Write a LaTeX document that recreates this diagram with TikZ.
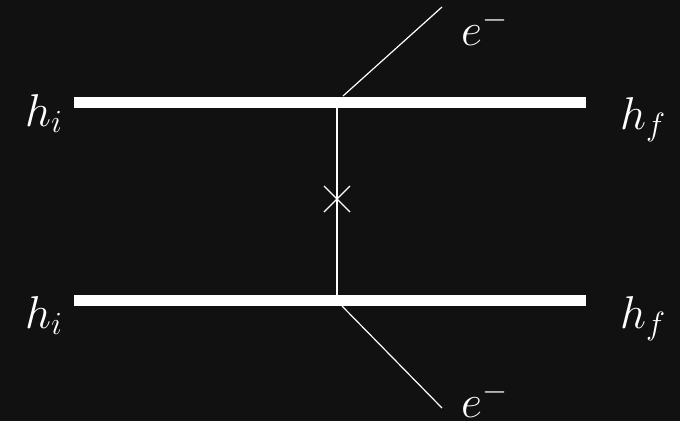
\RequirePackage{fix-cm}
\documentclass[tikz,border=0pt]{standalone}
\usepackage{tikz}
\definecolor{bgdark}{HTML}{111111}
\tikzset{
  bar/.style={white, line width=11pt, line cap=butt},
  thin/.style={white, line width=1.3pt},
  lbl/.style={white, inner sep=0pt, anchor=base west, font=\fontsize{46}{50}\selectfont}
}
\begin{document}
\begin{tikzpicture}[x=1pt,y=-1pt]
  \fill[bgdark] (0,0) rectangle (680,421);
  \useasboundingbox (0,0) rectangle (680,421);
  % bar end points
  \coordinate (tl) at (74,102);
  \coordinate (tr) at (586,102);
  \coordinate (bl) at (74,300.5);
  \coordinate (br) at (586,300.5);
  % vertex points
  \coordinate (vtop) at (337,107);
  \coordinate (vbot) at (337,295);
  \coordinate (dtop) at (343,96);
  \coordinate (dbot) at (342,306);
  \coordinate (etop) at (442,7);
  \coordinate (ebot) at (442,408);
  \coordinate (cross) at (337,199);
  % bars
  \draw[bar] (tl) -- (tr);
  \draw[bar] (bl) -- (br);
  % exchanged line
  \draw[thin, line width=1.5pt] (vtop) -- (vbot);
  % cross
  \draw[thin] ([shift={(-13,-13)}]cross) -- ([shift={(13,13)}]cross);
  \draw[thin] ([shift={(-13,13)}]cross) -- ([shift={(13,-13)}]cross);
  % electrons
  \draw[thin, line width=1.2pt] (dtop) -- (etop);
  \draw[thin, line width=1.2pt] (dbot) -- (ebot);
  % labels
  \node[lbl] (hi1) at (25,126) {$h_i$};
  \node[lbl] (hf1) at (620,129) {$h_f$};
  \node[lbl] (hi2) at (25,328) {$h_i$};
  \node[lbl] (hf2) at (620,328) {$h_f$};
  \node[lbl] (e1) at (461,45) {$e^-$};
  \node[lbl] (e2) at (461,417) {$e^-$};
\end{tikzpicture}
\end{document}
